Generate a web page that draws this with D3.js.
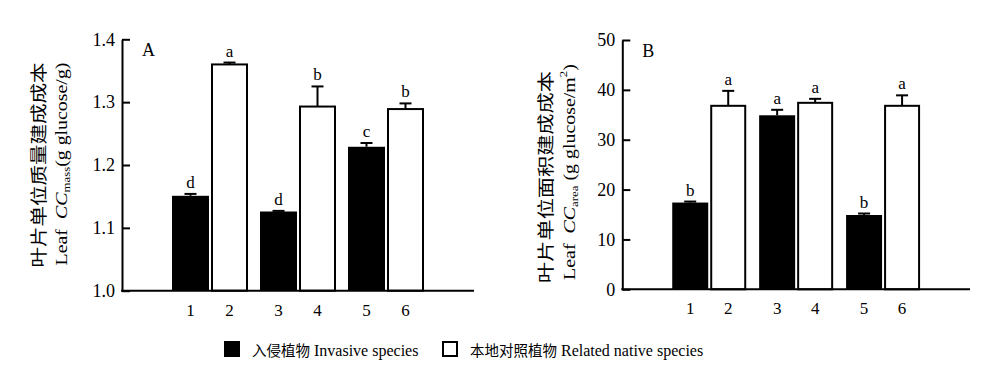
<!DOCTYPE html>
<html>
<head>
<meta charset="utf-8">
<script src="https://cdn.jsdelivr.net/npm/d3@7"></script>
<style>
  html, body { margin: 0; padding: 0; background: #fff; }
  svg { display: block; }
  text { font-family: "Liberation Serif", "Noto Sans CJK SC", serif; fill: #000; }
  .cjk { font-family: "Noto Sans CJK SC", sans-serif; }
</style>
</head>
<body>
<svg id="chart" width="1000" height="390"></svg>
<script>
// ---------- data ----------
const categories = ["1", "2", "3", "4", "5", "6"];
const pairIndex = [1, 1, 2, 2, 3, 3];
const speciesType = ["invasive", "native", "invasive", "native", "invasive", "native"];

const massValues = [1.151, 1.360, 1.126, 1.293, 1.229, 1.289];
const massErrors = [0.003, 0.003, 0.001, 0.032, 0.006, 0.009];
const massLetters = ["d", "a", "d", "b", "c", "b"];
const massTicks = [1.0, 1.1, 1.2, 1.3, 1.4];

const areaValues = [17.4, 36.8, 34.9, 37.4, 14.9, 36.8];
const areaErrors = [0.2, 3.0, 1.1, 0.8, 0.3, 2.1];
const areaLetters = ["b", "a", "a", "a", "b", "a"];
const areaTicks = [0, 10, 20, 30, 40, 50];

const legendLabels = [
  { type: "invasive", cn: "入侵植物", en: "Invasive species" },
  { type: "native", cn: "本地对照植物", en: "Related native species" }
];

// ---------- drawing ----------
const svg = d3.select("#chart");

function panel(opts) {
  const g = svg.append("g");
  const x = d3.scaleLinear().domain([0, 4]).range([opts.left, opts.right]);
  const y = d3.scaleLinear().domain(opts.domain).range([opts.bottom, opts.top]);
  const bw = opts.barWidth;
  const half = bw / 2 + 1;
  const cx = i => x(pairIndex[i]) + (speciesType[i] === "invasive" ? -half : half);

  const data = categories.map((c, i) => ({
    c, i, v: opts.values[i], e: opts.errors[i], l: opts.letters[i], t: speciesType[i]
  }));

  // bars
  g.selectAll("rect.bar").data(data).enter().append("rect")
    .attr("class", "bar")
    .attr("x", d => d.t === "invasive" ? cx(d.i) - bw / 2 : cx(d.i) - bw / 2 + 1)
    .attr("width", d => d.t === "invasive" ? bw : bw - 2)
    .attr("y", d => y(d.v))
    .attr("height", d => y(opts.domain[0]) - y(d.v))
    .attr("fill", d => d.t === "invasive" ? "#000" : "#fff")
    .attr("stroke", d => d.t === "invasive" ? "none" : "#000")
    .attr("stroke-width", 2);

  // error bars
  g.selectAll("line.err").data(data).enter().append("line")
    .attr("x1", d => cx(d.i)).attr("x2", d => cx(d.i))
    .attr("y1", d => y(d.v)).attr("y2", d => y(d.v + d.e))
    .attr("stroke", "#000").attr("stroke-width", 2);
  g.selectAll("line.cap").data(data).enter().append("line")
    .attr("x1", d => cx(d.i) - 6).attr("x2", d => cx(d.i) + 6)
    .attr("y1", d => y(d.v + d.e)).attr("y2", d => y(d.v + d.e))
    .attr("stroke", "#000").attr("stroke-width", 2);

  // significance letters
  g.selectAll("text.sig").data(data).enter().append("text")
    .attr("x", d => cx(d.i)).attr("y", d => y(d.v + d.e) - 6)
    .attr("text-anchor", "middle").attr("font-size", 17)
    .text(d => d.l);

  // y axis (inward ticks)
  const yAxis = d3.axisLeft(y).tickValues(opts.ticks)
    .tickSizeInner(-8).tickSizeOuter(0).tickPadding(7)
    .tickFormat(opts.fmt);
  const ya = g.append("g").attr("transform", `translate(${opts.left},0)`).call(yAxis);
  ya.select(".domain").attr("stroke-width", 2);
  ya.selectAll(".tick line").attr("stroke-width", 2);
  ya.selectAll(".tick text").attr("font-size", 18)
    .attr("font-family", "Liberation Serif").attr("fill", "#000");

  // x axis line
  g.append("line").attr("x1", opts.left - 1).attr("x2", opts.right)
    .attr("y1", y(opts.domain[0])).attr("y2", y(opts.domain[0]))
    .attr("stroke", "#000").attr("stroke-width", 2);

  // x labels
  g.selectAll("text.xl").data(data).enter().append("text")
    .attr("x", d => cx(d.i)).attr("y", y(opts.domain[0]) + 25)
    .attr("text-anchor", "middle").attr("font-size", 17)
    .text(d => d.c);

  // panel letter
  g.append("text").attr("x", opts.left + 20).attr("y", opts.top + 17)
    .attr("font-size", 18).text(opts.label);

  // y titles (stretched along text direction)
  function stretched(xp, cy, len, build) {
    const gg = g.append("g");
    const t = gg.append("text").attr("text-anchor", "middle");
    build(t);
    const w = t.node().getComputedTextLength();
    gg.attr("transform", `translate(${xp},${cy}) rotate(-90) scale(${len / w},1)`);
  }
  stretched(opts.t1x, opts.t1cy, opts.t1len, t => {
    t.attr("class", "cjk").attr("font-size", 17).attr("dy", "0.36em").text(opts.title1);
  });
  stretched(opts.t2x, opts.t2cy, opts.t2len, opts.title2);
}

panel({
  left: 122, right: 474, top: 39.3, bottom: 290.7,
  domain: [1.0, 1.4], ticks: massTicks, fmt: d3.format(".1f"),
  values: massValues, errors: massErrors, letters: massLetters,
  barWidth: 37, label: "A",
  title1: "叶片单位质量建成成本", t1x: 39, t1cy: 165, t1len: 205,
  t2x: 67, t2cy: 164, t2len: 203,
  title2: t => {
    t.attr("font-size", 17);
    t.append("tspan").text("Leaf\u00a0\u00a0");
    t.append("tspan").attr("font-style", "italic").text("CC");
    t.append("tspan").attr("font-size", 11).attr("dy", 3).text("mass");
    t.append("tspan").attr("dy", -3).text("(g glucose/g)");
  }
});

panel({
  left: 622.3, right: 970, top: 40, bottom: 289.3,
  domain: [0, 50], ticks: areaTicks, fmt: d3.format("d"),
  values: areaValues, errors: areaErrors, letters: areaLetters,
  barWidth: 36, label: "B",
  title1: "叶片单位面积建成成本", t1x: 546, t1cy: 177, t1len: 212,
  t2x: 575, t2cy: 172, t2len: 216,
  title2: t => {
    t.attr("font-size", 17);
    t.append("tspan").text("Leaf\u00a0\u00a0");
    t.append("tspan").attr("font-style", "italic").text("CC");
    t.append("tspan").attr("font-size", 11).attr("dy", 3).text("area");
    t.append("tspan").attr("dy", -3).text("\u00a0(g glucose/m");
    t.append("tspan").attr("font-size", 11).attr("dy", -8).text("2");
    t.append("tspan").attr("dy", 8).text(")");
  }
});

// ---------- legend ----------
const lg = svg.append("g");
const legendX = d3.scaleOrdinal().domain(["invasive", "native"]).range([224, 442]);
legendLabels.forEach(d => {
  const x0 = legendX(d.type);
  lg.append("rect")
    .attr("x", d.type === "invasive" ? x0 : x0 + 1)
    .attr("y", d.type === "invasive" ? 341 : 342)
    .attr("width", d.type === "invasive" ? 16 : 14)
    .attr("height", d.type === "invasive" ? 16 : 14)
    .attr("fill", d.type === "invasive" ? "#000" : "#fff")
    .attr("stroke", d.type === "invasive" ? "none" : "#000")
    .attr("stroke-width", 2);
  const t = lg.append("text").attr("x", x0 + 28).attr("y", 356);
  t.append("tspan").attr("class", "cjk").attr("font-size", 14.5).text(d.cn);
  t.append("tspan").attr("font-size", 16).text("\u00a0" + d.en);
});
</script>
</body>
</html>
